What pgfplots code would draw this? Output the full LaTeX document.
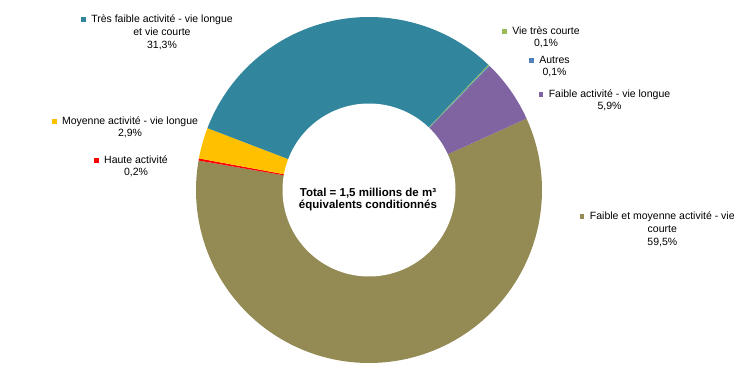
\documentclass[border=0pt]{standalone}
\usepackage{pgfplots}
\pgfplotsset{compat=1.18}
\usepackage{fontspec}
\setmainfont{Liberation Sans}
\definecolor{cOlive}{HTML}{948A54}
\definecolor{cRed}{HTML}{FF0000}
\definecolor{cYellow}{HTML}{FFC000}
\definecolor{cTeal}{HTML}{31859C}
\definecolor{cGreen}{HTML}{9BBB59}
\definecolor{cBlue}{HTML}{4F81BD}
\definecolor{cPurple}{HTML}{8064A2}
% shares (%)
\def\vOlive{59.5}
\def\vRed{0.2}
\def\vYellow{2.9}
\def\vTeal{31.3}
\def\vGreen{0.1}
\def\vBlue{0.1}
\def\vPurple{5.9}
\newcommand\key[1]{\llap{\textcolor{#1}{\raisebox{0.6bp}{\rule{4.6bp}{4.6bp}}}\hspace{5.5bp}}}
\begin{document}
\begin{tikzpicture}
\fontsize{10.5bp}{13bp}\selectfont
\pgfmathsetmacro\aS{24.4}
\pgfmathsetmacro\aA{\aS-\vOlive*3.6}
\pgfmathsetmacro\aB{\aA-\vRed*3.6}
\pgfmathsetmacro\aC{\aB-\vYellow*3.6}
\pgfmathsetmacro\aD{\aC-\vTeal*3.6}
\pgfmathsetmacro\aE{\aD-\vGreen*3.6}
\pgfmathsetmacro\aF{\aE-\vBlue*3.6}
\pgfmathsetmacro\aG{\aF-\vPurple*3.6}
\begin{axis}[scale only axis, width=745bp, height=387bp,
  xmin=-369, xmax=376, ymin=-197, ymax=190, hide axis, clip=false]
\addplot[fill=cOlive, draw=none, domain=\aA:\aS, samples=150] ({173*cos(x)},{173*sin(x)}) -- (axis cs:0,0) -- cycle;
\addplot[fill=cRed, draw=none, domain=\aB:\aA, samples=5] ({173*cos(x)},{173*sin(x)}) -- (axis cs:0,0) -- cycle;
\addplot[fill=cYellow, draw=none, domain=\aC:\aB, samples=20] ({173*cos(x)},{173*sin(x)}) -- (axis cs:0,0) -- cycle;
\addplot[fill=cTeal, draw=none, domain=\aD:\aC, samples=100] ({173*cos(x)},{173*sin(x)}) -- (axis cs:0,0) -- cycle;
\addplot[fill=cGreen, draw=none, domain=\aE:\aD, samples=5] ({173*cos(x)},{173*sin(x)}) -- (axis cs:0,0) -- cycle;
\addplot[fill=cBlue, draw=none, domain=\aF:\aE, samples=5] ({173*cos(x)},{173*sin(x)}) -- (axis cs:0,0) -- cycle;
\addplot[fill=cPurple, draw=none, domain=\aG:\aF, samples=30] ({173*cos(x)},{173*sin(x)}) -- (axis cs:0,0) -- cycle;
\addplot[fill=white, draw=none, domain=0:360, samples=180] ({86.5*cos(x)},{86.5*sin(x)}) -- cycle;
% labels
\node[align=center, font=\fontsize{10.5bp}{13bp}\selectfont] at (axis cs:-207,158) {\key{cTeal}Très faible activité - vie longue\\et vie courte\\31,3\%};
\node[align=center, font=\fontsize{10.5bp}{12bp}\selectfont] at (axis cs:-239,62.5) {\key{cYellow}Moyenne activité - vie longue\\2,9\%};
\node[align=center, font=\fontsize{10.5bp}{12bp}\selectfont] at (axis cs:-233,23.5) {\key{cRed}Haute activité\\0,2\%};
\node[align=center, font=\fontsize{10.5bp}{12bp}\selectfont] at (axis cs:177,152.5) {\key{cGreen}Vie très courte\\0,1\%};
\node[align=center, font=\fontsize{10.5bp}{12bp}\selectfont] at (axis cs:185.5,123.5) {\key{cBlue}Autres\\0,1\%};
\node[align=center, font=\fontsize{10.5bp}{12.5bp}\selectfont] at (axis cs:240.5,89.7) {\key{cPurple}Faible activité - vie longue\\5,9\%};
\node[align=center, font=\fontsize{10.5bp}{13bp}\selectfont] at (axis cs:293.3,-39.2) {\key{cOlive}Faible et moyenne activité - vie\\courte\\59,5\%};
\node[align=center, font=\bfseries\fontsize{11.5bp}{11.5bp}\selectfont] at (axis cs:-1,-9.5) {Total = 1,5 millions de m³\\équivalents conditionnés};
\end{axis}
\path (current axis.south west) rectangle (current axis.north east);
\end{tikzpicture}
\end{document}
